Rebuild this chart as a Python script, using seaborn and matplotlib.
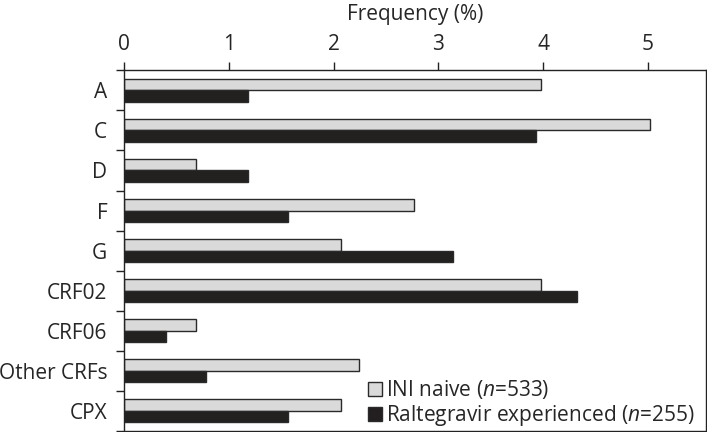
import matplotlib
matplotlib.use("Agg")
import matplotlib.pyplot as plt
import seaborn as sns
import pandas as pd
import numpy as np
from matplotlib.patches import Rectangle

# Subtype frequencies (%)
subtypes = ["A", "C", "D", "F", "G", "CRF02", "CRF06", "Other CRFs", "CPX"]
ini_naive = [3.98, 5.02, 0.69, 2.77, 2.07, 3.98, 0.69, 2.24, 2.07]
ral_experienced = [1.18, 3.93, 1.18, 1.57, 3.14, 4.32, 0.40, 0.78, 1.57]
groups = ["INI naive", "Raltegravir experienced"]
legend_labels = [r"INI naive ($n$=533)", r"Raltegravir experienced ($n$=255)"]
x_ticks = [0, 1, 2, 3, 4, 5]


def main():
    sns.set_style("white")
    plt.rcParams["font.family"] = ["Open Sans", "DejaVu Sans"]
    plt.rcParams["mathtext.fontset"] = "custom"
    plt.rcParams["mathtext.it"] = "Open Sans:italic"
    plt.rcParams["mathtext.rm"] = "Open Sans"

    df = pd.DataFrame({
        "subtype": subtypes * 2,
        "freq": ini_naive + ral_experienced,
        "group": [groups[0]] * len(subtypes) + [groups[1]] * len(subtypes),
    })

    fig = plt.figure(figsize=(7.07, 4.32), dpi=100)
    ax = fig.add_axes([0.1754, 0.003, 0.8232, 0.834])

    sns.barplot(data=df, x="freq", y="subtype", hue="group", orient="h",
                palette=["#dadada", "#231f20"], width=0.58, ax=ax,
                edgecolor="#2a2a2a", linewidth=1.0, legend=False)

    n = len(subtypes)
    ax.set_ylim(n - 0.5, -0.5)
    ax.set_xlim(0, 5.555)

    # x axis on top
    ax.xaxis.tick_top()
    ax.xaxis.set_label_position("top")
    ax.set_xticks(x_ticks)
    ax.set_xticklabels([str(t) for t in x_ticks])
    ax.set_xlabel("Frequency (%)", fontsize=15, labelpad=10)
    ax.set_ylabel("")
    ax.tick_params(axis="x", which="major", direction="out", length=6,
                   width=1, color="#222222", labelsize=15, pad=5)

    # ticks between categories, labels at category centres
    ax.set_yticks(np.arange(-0.5, n, 1.0))
    ax.set_yticklabels([])
    ax.set_yticks(np.arange(n), minor=True)
    ax.set_yticklabels(subtypes, minor=True)
    ax.tick_params(axis="y", which="major", direction="out", length=6,
                   width=1, color="#222222", left=True)
    ax.tick_params(axis="y", which="minor", length=0, labelsize=15, pad=12)

    for s in ax.spines.values():
        s.set_visible(True)
        s.set_color("#222222")
        s.set_linewidth(1.0)

    handles = [Rectangle((0, 0), 1, 1, facecolor="#dadada", edgecolor="#2a2a2a", linewidth=1.0),
               Rectangle((0, 0), 1, 1, facecolor="#231f20", edgecolor="#2a2a2a", linewidth=1.0)]
    ax.legend(handles, legend_labels, loc="lower right", frameon=False,
              fontsize=15, handlelength=0.67, handleheight=0.67,
              handletextpad=0.2, labelspacing=0.12,
              borderaxespad=0.0, bbox_to_anchor=(0.995, -0.017))

    fig.savefig("out.png", dpi=100)
    plt.close(fig)


if __name__ == "__main__":
    main()
